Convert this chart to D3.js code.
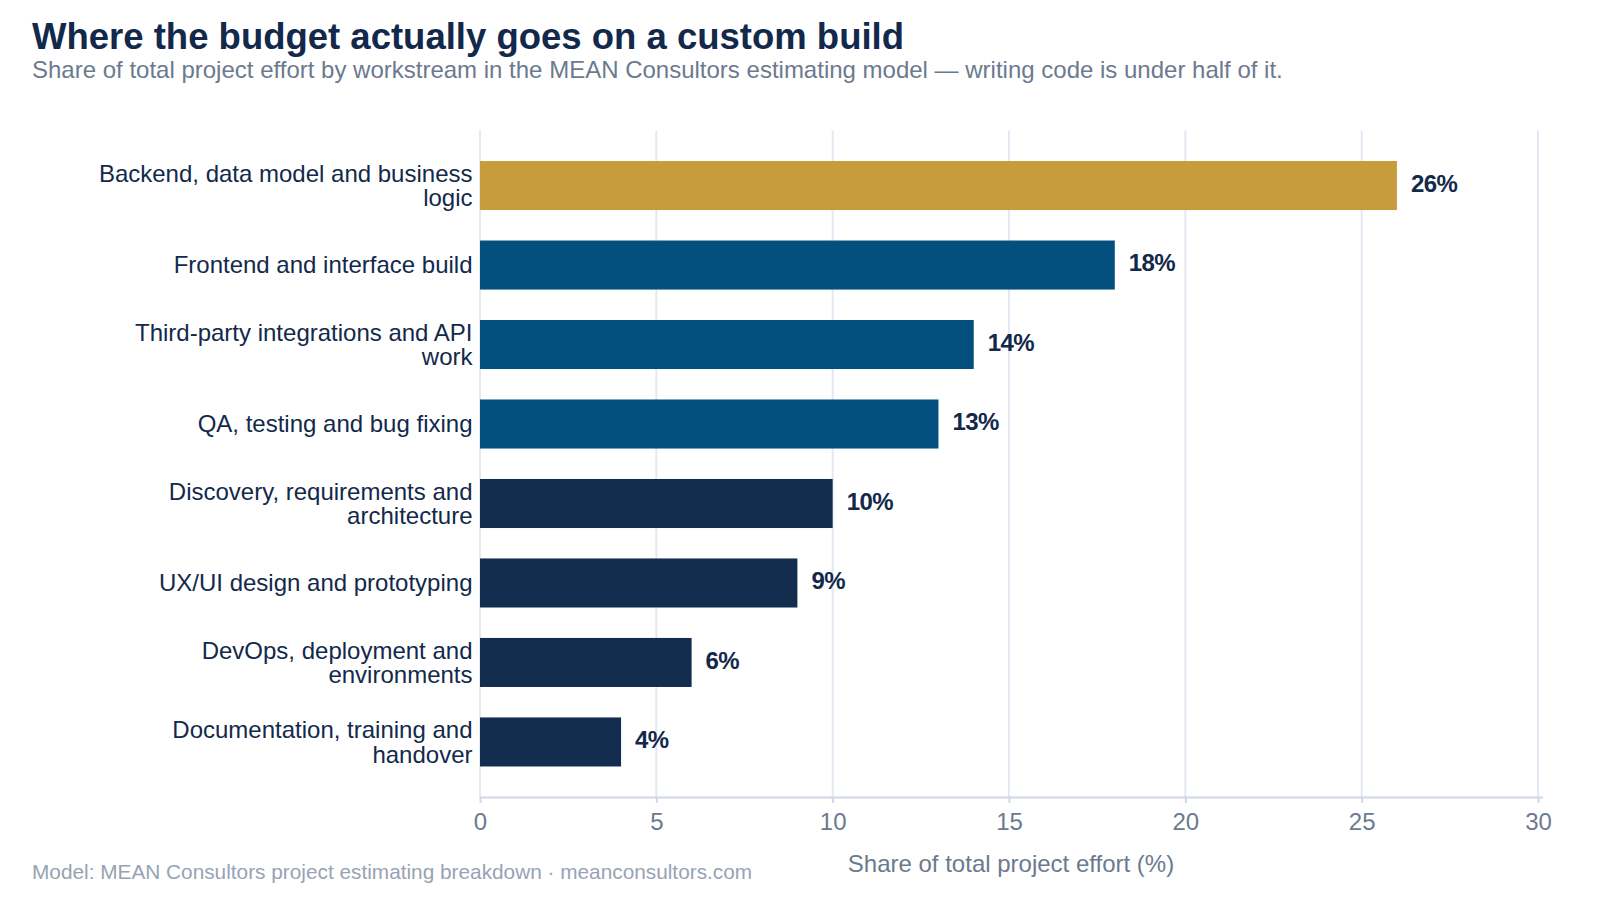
<!DOCTYPE html>
<html><head><meta charset="utf-8">
<script src="https://cdn.jsdelivr.net/npm/d3@7"></script>
<style>body{margin:0;background:#fff;font-family:"Liberation Sans",Arial,sans-serif;}</style>
</head><body>
<svg id="chart" width="1600" height="900"></svg>
<script>
const categories = [
  "Backend, data model and business logic",
  "Frontend and interface build",
  "Third-party integrations and API work",
  "QA, testing and bug fixing",
  "Discovery, requirements and architecture",
  "UX/UI design and prototyping",
  "DevOps, deployment and environments",
  "Documentation, training and handover"
];
const values = [26, 18, 14, 13, 10, 9, 6, 4];
const groups = ["highlight", "build", "build", "build", "plan", "plan", "plan", "plan"];
const xTicks = [0, 5, 10, 15, 20, 25, 30];

const colorMap = {highlight: "#c89b3c", build: "#03507e", plan: "#132d4e"};
const svg = d3.select("#chart");
const margin = {left: 480, right: 62, top: 130.5, bottom: 103};
const W = 1600, H = 900;

const x = d3.scaleLinear().domain([0, 30]).range([margin.left, W - margin.right]);
const y = d3.scaleBand().domain(categories).range([margin.top, H - margin.bottom]).paddingInner(0.383).paddingOuter(0.384);

// title
svg.append("text").attr("x", 32).attr("y", 49).attr("font-size", 36.5).attr("font-weight", "bold")
  .attr("fill", "#13294b").text("Where the budget actually goes on a custom build");
svg.append("text").attr("x", 32).attr("y", 77.5).attr("font-size", 24).attr("fill", "#6b7a8f")
  .text("Share of total project effort by workstream in the MEAN Consultors estimating model — writing code is under half of it.");

// grid
svg.append("g").selectAll("line").data(xTicks).join("line")
  .attr("x1", d => x(d)).attr("x2", d => x(d))
  .attr("y1", margin.top).attr("y2", H - margin.bottom)
  .attr("stroke", "#e3e9f2").attr("stroke-width", 2);

// bars
svg.append("g").selectAll("rect").data(categories).join("rect")
  .attr("x", x(0)).attr("y", d => y(d))
  .attr("width", (d, i) => x(values[i]) - x(0))
  .attr("height", y.bandwidth())
  .attr("fill", (d, i) => colorMap[groups[i]]);

// value labels
svg.append("g").selectAll("text").data(categories).join("text")
  .attr("x", (d, i) => x(values[i]) + 14)
  .attr("y", d => y(d) + y.bandwidth() / 2 - 2)
  .attr("dy", "0.35em")
  .attr("font-size", 24).attr("font-weight", "bold").attr("fill", "#13294b")
  .attr("letter-spacing", "-0.6")
  .text((d, i) => values[i] + "%");

// x axis
const xAxis = svg.append("g").attr("transform", `translate(0,${H - margin.bottom})`)
  .call(d3.axisBottom(x).tickValues(xTicks).tickSize(6).tickPadding(10));
xAxis.select(".domain").attr("stroke", "#cfd8e3").attr("stroke-width", 2)
  .attr("d", `M${x(0)},0.5H${x(30) + 5}`);
xAxis.selectAll(".tick line").attr("stroke", "#cfd8e3").attr("stroke-width", 2);
xAxis.selectAll(".tick text").attr("font-size", 24).attr("fill", "#6b7a8f")
  .attr("font-family", "Liberation Sans, Arial, sans-serif");

svg.append("text").attr("x", (x(0) + x(30)) / 2 + 2).attr("y", 872).attr("text-anchor", "middle")
  .attr("font-size", 24).attr("fill", "#6b7a8f").text("Share of total project effort (%)");

// category labels with wrapping
const labelG = svg.append("g");
const maxW = 380;
categories.forEach(cat => {
  const t = labelG.append("text").attr("x", margin.left - 7.5).attr("text-anchor", "end")
    .attr("font-size", 24).attr("fill", "#13294b");
  const words = cat.split(" ");
  let lines = [], cur = [];
  const probe = t.append("tspan");
  words.forEach(w => {
    const test = cur.concat(w).join(" ");
    probe.text(test);
    if (probe.node().getComputedTextLength() > maxW && cur.length) {
      lines.push(cur.join(" ")); cur = [w];
    } else cur.push(w);
  });
  lines.push(cur.join(" "));
  probe.remove();
  const lh = 24.5;
  const cy = y(cat) + y.bandwidth() / 2;
  lines.forEach((ln, i) => {
    t.append("tspan").attr("x", margin.left - 7.5)
      .attr("y", cy + (i - (lines.length - 1) / 2) * lh)
      .attr("dy", "0.35em").text(ln);
  });
});

// footer
svg.append("text").attr("x", 32).attr("y", 879).attr("font-size", 20.8).attr("fill", "#97a3b4")
  .text("Model: MEAN Consultors project estimating breakdown · meanconsultors.com");
</script>
</body></html>
